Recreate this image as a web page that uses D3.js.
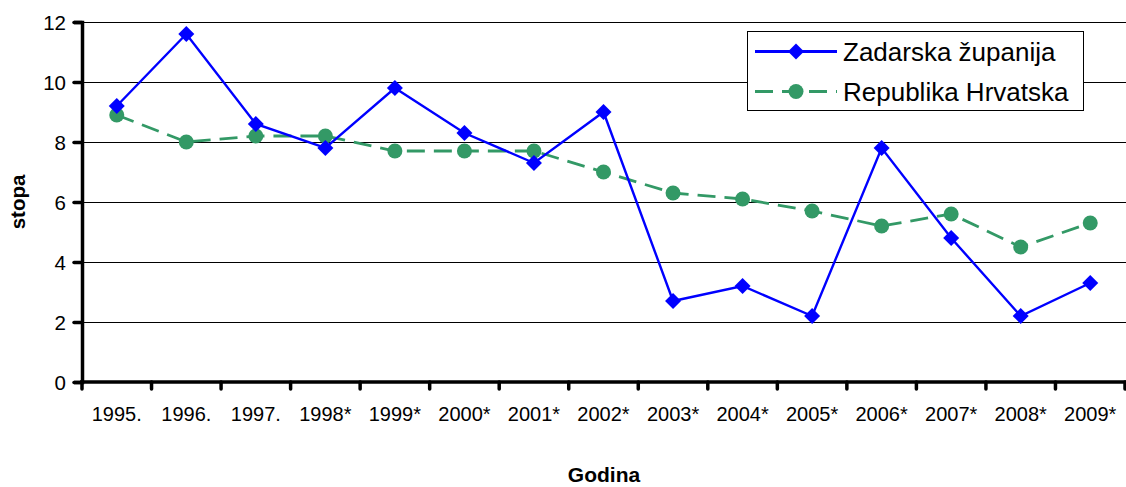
<!DOCTYPE html>
<html><head><meta charset="utf-8">
<script src="https://d3js.org/d3.v7.min.js"></script>
<style>body{margin:0;background:#fff}svg{display:block;font-family:"Liberation Sans",Arial,sans-serif}</style>
</head><body><svg id="c" width="1126" height="487"></svg>
<script>
const categories = ["1995.","1996.","1997.","1998*","1999*","2000*","2001*","2002*","2003*","2004*","2005*","2006*","2007*","2008*","2009*"];
const zadar = [9.2,11.6,8.6,7.8,9.8,8.3,7.3,9.0,2.7,3.2,2.2,7.8,4.8,2.2,3.3];
const hrvatska = [8.9,8.0,8.2,8.2,7.7,7.7,7.7,7.0,6.3,6.1,5.7,5.2,5.6,4.5,5.3];
const yTicks = [0,2,4,6,8,10,12];
const seriesNames = ["Zadarska županija","Republika Hrvatska"];

const svg = d3.select("#c");
const L=82, R=1125, T=22, B=382;
const x = d3.scaleBand().domain(categories).range([L,R]);
const y = d3.scaleLinear().domain([0,12]).range([B,T]);
const FF = "Liberation Sans, Arial, sans-serif";

// gridlines
svg.append("g").selectAll("line").data(yTicks.filter(d=>d>0)).join("line")
  .attr("x1",L).attr("x2",1126).attr("y1",d=>y(d)+0.5).attr("y2",d=>y(d)+0.5)
  .attr("stroke","#000").attr("stroke-width",1);

// y axis
const ya = svg.append("g").attr("transform",`translate(${L},0)`)
  .call(d3.axisLeft(y).tickValues(yTicks).tickSize(8).tickPadding(8));
ya.select(".domain").attr("stroke-width",3.5);
ya.selectAll(".tick line").attr("stroke-width",3.5).attr("stroke-linecap","round");
ya.selectAll("text").attr("font-size",20.5).attr("font-family",FF).attr("fill","#000").attr("dy","0.36em");

// x axis
const xa = svg.append("g").attr("transform",`translate(0,${B})`);
xa.append("line").attr("x1",L-2).attr("x2",1126).attr("y1",0).attr("y2",0).attr("stroke","#000").attr("stroke-width",3.5);
const bounds = categories.map(c=>x(c)).concat([x(categories[categories.length-1])+x.bandwidth()]);
xa.selectAll("line.t").data(bounds).join("line").attr("class","t")
  .attr("x1",d=>d).attr("x2",d=>d).attr("y1",0).attr("y2",7).attr("stroke","#000").attr("stroke-width",3.5).attr("stroke-linecap","round");
xa.selectAll("text").data(categories).join("text")
  .attr("x",d=>x(d)+x.bandwidth()/2).attr("y",39).attr("text-anchor","middle")
  .attr("font-size",20).text(d=>d);

// axis titles
svg.append("text").attr("x",604).attr("y",482).attr("text-anchor","middle")
  .attr("font-weight","bold").attr("font-size",21).text("Godina");
svg.append("text").attr("transform","translate(25,202) rotate(-90)").attr("text-anchor","middle")
  .attr("font-weight","bold").attr("font-size",20.5).text("stopa");

const cx = d=>x(d)+x.bandwidth()/2;
const green="#339966", blue="#0000FF";

// green series
svg.append("path").datum(hrvatska).attr("fill","none").attr("stroke",green).attr("stroke-width",2.8)
  .attr("stroke-dasharray","18,9")
  .attr("d",d3.line().x((d,i)=>cx(categories[i])).y(d=>y(d)));
svg.append("g").selectAll("circle").data(hrvatska).join("circle")
  .attr("cx",(d,i)=>cx(categories[i])).attr("cy",d=>y(d)).attr("r",7.5).attr("fill",green);

// blue series
svg.append("path").datum(zadar).attr("fill","none").attr("stroke",blue).attr("stroke-width",2.4)
  .attr("d",d3.line().x((d,i)=>cx(categories[i])).y(d=>y(d)));
const diamond = s=>`M0,${-s}L${s},0L0,${s}L${-s},0Z`;
svg.append("g").selectAll("path").data(zadar).join("path")
  .attr("transform",(d,i)=>`translate(${cx(categories[i])},${y(d)})`).attr("d",diamond(8)).attr("fill",blue);

// legend
const lg = svg.append("g");
lg.append("rect").attr("x",747.5).attr("y",31.5).attr("width",336).attr("height",79).attr("fill","#fff").attr("stroke","#000");
const rows=[{n:seriesNames[0],c:blue,dash:null,m:"d"},{n:seriesNames[1],c:green,dash:"18,9",m:"c"}];
rows.forEach((r,i)=>{
  const yy = 51.5+i*40;
  lg.append("line").attr("x1",755).attr("x2",837).attr("y1",yy).attr("y2",yy).attr("stroke",r.c).attr("stroke-width",2.8)
    .attr("stroke-dasharray",r.dash);
  if(r.m==="d") lg.append("path").attr("transform",`translate(796,${yy})`).attr("d",diamond(8)).attr("fill",r.c);
  else lg.append("circle").attr("cx",796).attr("cy",yy).attr("r",7.5).attr("fill",r.c);
  lg.append("text").attr("x",843).attr("y",yy+9).attr("font-size",26).text(r.n);
});
</script></body></html>
